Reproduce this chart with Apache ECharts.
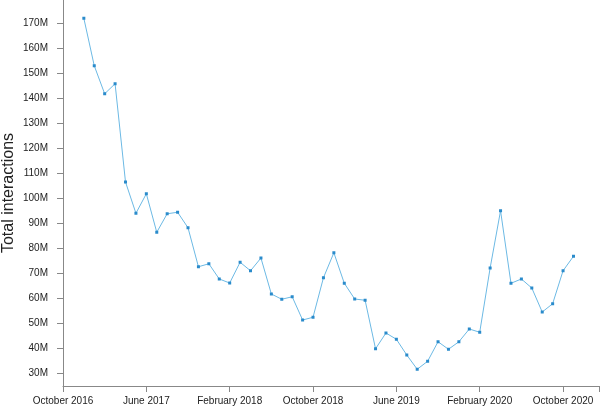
<!DOCTYPE html>
<html>
<head>
<meta charset="utf-8">
<script src="https://cdn.jsdelivr.net/npm/echarts@6/dist/echarts.min.js"></script>
<style>
html,body{margin:0;padding:0;background:#fff;}
#chart{width:600px;height:406px;}
</style>
</head>
<body>
<div id="chart"></div>
<script>
// Months (YYYY-MM) and total interactions in millions
const months = [
  '2016-12','2017-01','2017-02','2017-03','2017-04','2017-05','2017-06','2017-07','2017-08','2017-09','2017-10','2017-11',
  '2017-12','2018-01','2018-02','2018-03','2018-04','2018-05','2018-06','2018-07','2018-08','2018-09','2018-10','2018-11',
  '2018-12','2019-01','2019-02','2019-03','2019-04','2019-05','2019-06','2019-07','2019-08','2019-09','2019-10','2019-11',
  '2019-12','2020-01','2020-02','2020-03','2020-04','2020-05','2020-06','2020-07','2020-08','2020-09','2020-10','2020-11'
];
const interactions = [
  171.9,152.9,141.7,145.7,106.4,93.9,101.7,86.3,93.7,94.3,88.1,72.5,
  73.7,67.6,66.0,74.3,70.9,76.0,61.6,59.5,60.5,51.2,52.3,68.1,
  78.1,65.9,59.6,59.1,39.7,46.0,43.5,37.2,31.5,34.7,42.5,39.5,
  42.5,47.6,46.3,72.0,94.9,65.9,67.6,64.0,54.4,57.7,70.9,76.7
];
const yTicks = [30,40,50,60,70,80,90,100,110,120,130,140,150,160,170];

const monthNames = ['January','February','March','April','May','June','July','August','September','October','November','December'];
const originYear = 2016, originMonth = 9; // October 2016 (0-based month)
function monthIndex(s){
  const [y,m] = s.split('-').map(Number);
  return (y - originYear) * 12 + (m - 1) - originMonth;
}
function indexLabel(i){
  if (Math.abs(i - Math.round(i)) > 1e-6 || Math.round(i) % 8 !== 0) return '';
  const total = originYear * 12 + originMonth + Math.round(i);
  return monthNames[total % 12] + ' ' + Math.floor(total / 12);
}
const seriesData = months.map((m, k) => [monthIndex(m), interactions[k]]);

const axisColor = '#888';
const font = 'Liberation Sans, Arial, Helvetica, sans-serif';
const chart = echarts.init(document.getElementById('chart'), null, {renderer:'canvas'});
chart.setOption({
  animation: false,
  grid: [
    {left: 63, right: 1, top: 0, bottom: 20, containLabel: false, outerBoundsMode: 'none'},
    {left: 63, right: 1, top: 23, bottom: 33, containLabel: false, outerBoundsMode: 'none'}
  ],
  xAxis: [
    {
      type: 'value', gridIndex: 0, min: 0, max: 51.45, interval: 8,
      axisLine: {show: true, lineStyle: {color: axisColor, width: 1}},
      axisTick: {show: true, length: 6, lineStyle: {color: axisColor}},
      axisLabel: {show: true, margin: 10, color: '#222', fontSize: 10, fontFamily: font, formatter: indexLabel, showMaxLabel: true},
      splitLine: {show: false}
    },
    {
      type: 'value', gridIndex: 1, show: false, min: 0, max: 51.45
    }
  ],
  yAxis: [
    {
      type: 'value', gridIndex: 0, min: 24.8, max: 179.2,
      name: 'Total interactions', nameLocation: 'middle', nameGap: 46,
      nameTextStyle: {color: '#222', fontSize: 16, fontFamily: font},
      axisLine: {show: true, lineStyle: {color: axisColor, width: 1}},
      axisTick: {show: false}, axisLabel: {show: false}, splitLine: {show: false}
    },
    {
      type: 'value', gridIndex: 1, min: yTicks[0], max: yTicks[yTicks.length-1], interval: 10,
      axisLine: {show: false},
      axisTick: {show: true, length: 6, lineStyle: {color: axisColor}},
      axisLabel: {show: true, margin: 15, color: '#222', fontSize: 10, fontFamily: font, formatter: v => v + 'M'},
      splitLine: {show: false}
    }
  ],
  series: [{
    type: 'line', xAxisIndex: 0, yAxisIndex: 0,
    data: seriesData,
    symbol: 'rect', symbolSize: 3, showSymbol: true,
    lineStyle: {color: '#6cb9e4', width: 1},
    itemStyle: {color: '#2a8bcb'},
    clip: false
  }]
});
</script>
</body>
</html>
